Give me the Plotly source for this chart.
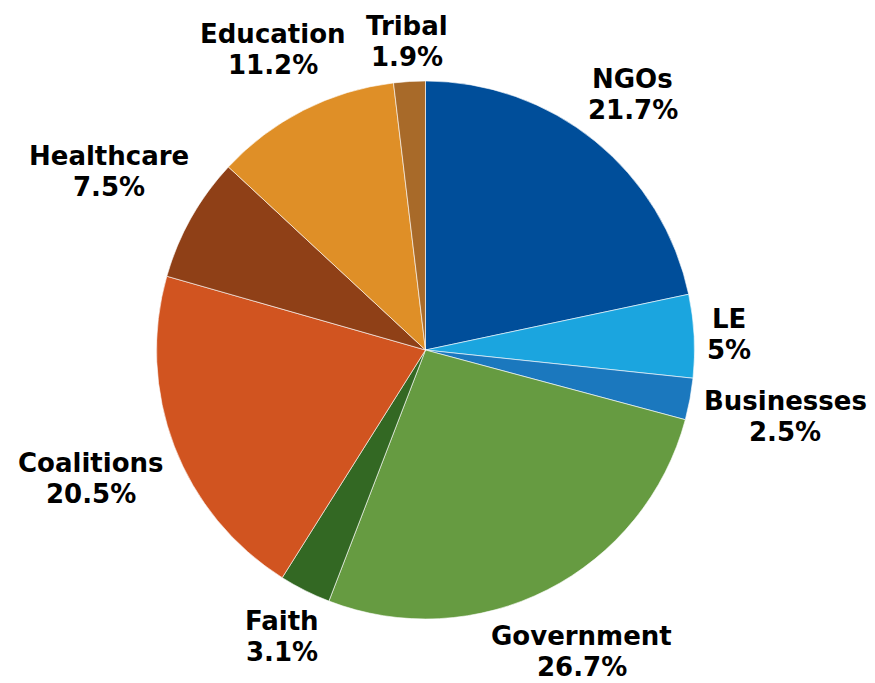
import math
import plotly.graph_objects as go

# Share of partners by sector (percent), clockwise from 12 o'clock
sectors = ["NGOs", "LE", "Businesses", "Government", "Faith",
           "Coalitions", "Healthcare", "Education", "Tribal"]
shares = [21.7, 5, 2.5, 26.7, 3.1, 20.5, 7.5, 11.2, 1.9]
colors = ["#004e9a", "#1ba5df", "#1b78be", "#669b41", "#336823",
          "#d15420", "#8f4017", "#df8f27", "#a86a29"]

W, H = 875, 683
M = dict(l=0, r=24, t=81, b=64)
radius = min(W - M["l"] - M["r"], H - M["t"] - M["b"]) / 2
center_y = M["t"] + radius

FONT = "DejaVu Sans"
FONT_SIZE = 26
LINE_GAP = 31      # baseline-to-baseline distance of the two label lines
LABEL_GAP = 12     # space between the rim and the label block
HALF_BLOCK = 25.5  # half height of a two-line label block

# approximate advance widths (em) for DejaVu Sans Bold
_EM = {
    "N": .837, "G": .821, "O": .850, "L": .637, "E": .683, "B": .764,
    "C": .734, "F": .632, "H": .837, "T": .682,
    "a": .675, "b": .716, "c": .593, "d": .716, "e": .678, "h": .712,
    "i": .343, "l": .343, "m": 1.042, "n": .712, "o": .687, "r": .493,
    "s": .595, "t": .478, "u": .712, "v": .652,
    ".": .380, "%": 1.002,
}


def text_width(s):
    return sum(_EM.get(ch, .696 if ch.isdigit() else .65) for ch in s) * FONT_SIZE


def fmt(v):
    return f"{v:g}%"


fig = go.Figure(go.Pie(
    labels=sectors,
    values=shares,
    sort=False,
    direction="clockwise",
    rotation=0,
    marker=dict(colors=colors, line=dict(color="white", width=0.6)),
    textinfo="none",
    showlegend=False,
    hoverinfo="label+value",
))

# Outside labels: each block sits on its slice's mid-angle, pushed out
# until it clears the rim, and kept inside the page vertically.
max_down = H - center_y - LINE_GAP / 2 - FONT_SIZE * 0.6
max_up = center_y - LINE_GAP / 2 - FONT_SIZE * 0.6
total = sum(shares)
cum = 0.0
annotations = []
for name, val in zip(sectors, shares):
    mid = (cum + val / 2) / total * 2 * math.pi
    cum += val
    sx, sy = math.sin(mid), -math.cos(mid)          # screen direction (y down)
    lines = [name, fmt(val)]
    half_w = max(text_width(t) for t in lines) / 2
    reach = half_w * abs(sx) + HALF_BLOCK * abs(sy)
    dist = radius + LABEL_GAP + reach
    cx, cy = dist * sx, dist * sy
    cy = max(-max_up, min(max_down, cy))
    for k, txt in enumerate(lines):
        ly = cy + (k - 0.5) * LINE_GAP
        annotations.append(dict(
            x=0.5, y=0.5, xref="paper", yref="paper",
            xshift=cx, yshift=-ly,
            text=f"<b>{txt}</b>", showarrow=False,
            xanchor="center", yanchor="middle",
            font=dict(family=FONT, size=FONT_SIZE, color="#000000"),
        ))

fig.update_layout(
    width=W, height=H,
    margin=M,
    paper_bgcolor="white",
    plot_bgcolor="white",
    annotations=annotations,
)

fig.write_html("out.html")
